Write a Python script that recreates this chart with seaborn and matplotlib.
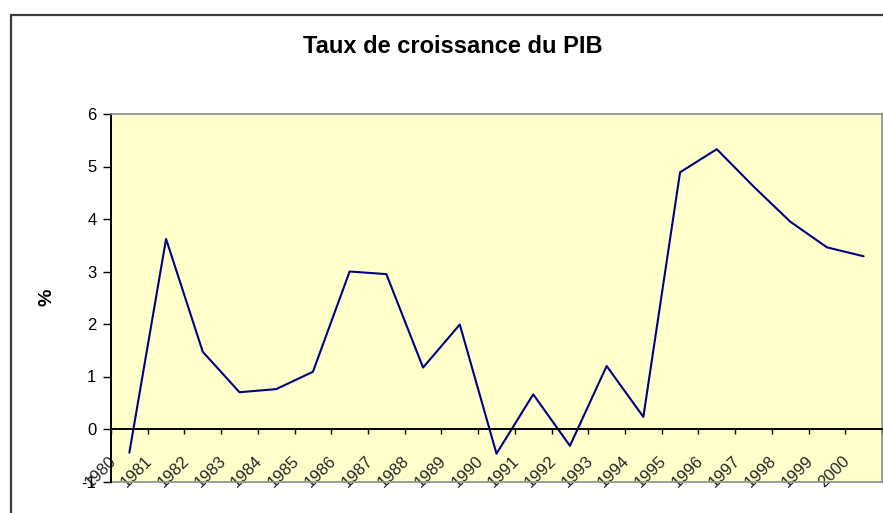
import matplotlib
matplotlib.use("Agg")
import matplotlib.pyplot as plt
import matplotlib.transforms as mtransforms
from matplotlib.lines import Line2D
import numpy as np
import pandas as pd
import seaborn as sns

# ---- data ----
annees = [1980, 1981, 1982, 1983, 1984, 1985, 1986, 1987, 1988, 1989, 1990,
          1991, 1992, 1993, 1994, 1995, 1996, 1997, 1998, 1999, 2000]
taux = [-0.45, 3.62, 1.47, 0.70, 0.76, 1.09, 3.00, 2.95, 1.17, 1.99, -0.47,
        0.66, -0.32, 1.20, 0.23, 4.89, 5.33, 4.62, 3.95, 3.46, 3.29]
etiquettes = ["1980", "1981", "1982", "1983", "1984", "1985", "1986", "1987",
              "1988", "1989", "1990", "1991", "1992", "1993", "1994", "1995",
              "1996", "1997", "1998", "1999", "2000"]
graduations_y = [-1, 0, 1, 2, 3, 4, 5, 6]
titre = "Taux de croissance du PIB"
titre_y = "%"

sns.set_style("white")
plt.rcParams['font.family'] = ['Liberation Sans', 'DejaVu Sans']

W, H = 883, 513
fig = plt.figure(figsize=(W / 100, H / 100), dpi=100)
fig.patch.set_facecolor('white')

left, right, top, bottom = 111, 882, 114, 481.5
ax = fig.add_axes([left / W, 1 - bottom / H, (right - left) / W, (bottom - top) / H])
ax.set_facecolor('#FFFFCC')

df = pd.DataFrame({'annee': annees, 'taux': taux})
sns.lineplot(data=df, x='annee', y='taux', ax=ax, color='#000080', lw=1.5, sort=False)

ax.set_xlim(annees[0] - 0.5, annees[-1] + 0.5)
ax.set_ylim(graduations_y[0], graduations_y[-1])
ax.set_xlabel('')
ax.set_ylabel('')

# spines
ax.spines['left'].set_color('black')
ax.spines['left'].set_linewidth(1.4)
ax.spines['bottom'].set_position(('data', 0))
ax.spines['bottom'].set_color('black')
ax.spines['bottom'].set_linewidth(1.4)
for s in ('top', 'right'):
    ax.spines[s].set_color('#8c8c8c')
    ax.spines[s].set_linewidth(1.2)
ax.add_line(Line2D([0, 1], [0, 0], transform=ax.transAxes, color='#8c8c8c',
                   lw=1.2, clip_on=False))

# y ticks
ax.set_yticks(graduations_y)
ax.set_yticklabels([str(v) for v in graduations_y])
ax.tick_params(axis='y', direction='out', length=5.5, width=1.0, pad=5,
               labelsize=12, colors='black', left=True)

# x ticks: labels at category centres, tick marks at boundaries
ax.set_xticks(annees)
ax.set_xticklabels(etiquettes, rotation=45, ha='right', va='center',
                   rotation_mode='anchor', fontsize=12)
ax.set_xticks(np.arange(annees[0] - 0.5, annees[-1] + 1.0, 1.0), minor=True)
ax.tick_params(axis='x', which='major', length=0, pad=21, bottom=True)
ax.tick_params(axis='x', which='minor', direction='out', length=3.8, width=1.0,
               bottom=True, color='black')
shift = mtransforms.ScaledTranslation(-16 / 100, 0, fig.dpi_scale_trans)
for lab in ax.get_xticklabels():
    lab.set_transform(lab.get_transform() + shift)

# outer chart border
bx, by = 10.5 / W, 1 - 14.5 / H
fig.add_artist(Line2D([bx, bx], [0, by], transform=fig.transFigure,
                      color='#3c3c3c', lw=1.6))
fig.add_artist(Line2D([bx, 1], [by, by], transform=fig.transFigure,
                      color='#3c3c3c', lw=1.6))

# titles
fig.text(452.5 / W, 1 - 53 / H, titre, ha='center', va='baseline',
         fontsize=17, fontweight='bold', color='black')
fig.text(47 / W, 1 - 297 / H, titre_y, rotation=90, ha='center', va='center',
         fontsize=14, fontweight='bold', color='black')

fig.savefig('out.png', dpi=100)
